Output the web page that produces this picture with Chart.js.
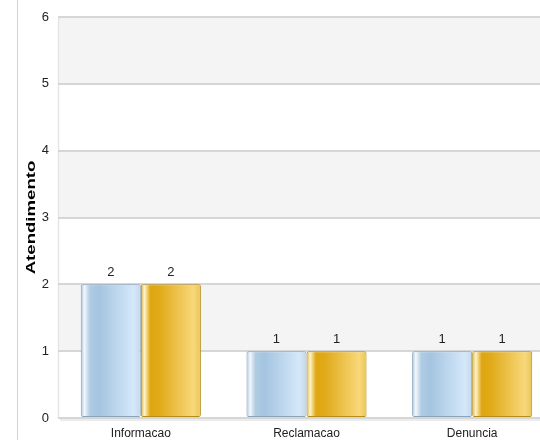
<!DOCTYPE html>
<html>
<head>
<meta charset="utf-8">
<script src="https://cdn.jsdelivr.net/npm/chart.js@4.4.1/dist/chart.umd.min.js"></script>
<style>
  html, body { margin: 0; padding: 0; background: #fff; }
  #wrap { width: 540px; height: 440px; overflow: hidden; }
</style>
</head>
<body>
<div id="wrap"><canvas id="chart" width="556" height="440"></canvas></div>
<script>
const categories = ['Informacao', 'Reclamacao', 'Denuncia'];
const seriesBlue = [2, 1, 1];
const seriesGold = [2, 1, 1];
const yTitle = 'Atendimento';
const yMin = 0;
const yMax = 6;

const CAT_PCT = 0.725;
const FONT = '"Liberation Sans", Arial, sans-serif';

const blueStops = [[0, '#a6c0d6'], [0.06, '#f4f8fc'], [0.15, '#b0cce4'], [0.3, '#a4c4e0'], [0.88, '#d4e8fa'], [1, '#c4d8ea']];
const goldStops = [[0, '#d8b040'], [0.06, '#fff3c8'], [0.16, '#dea610'], [0.3, '#e0aa18'], [0.88, '#f8d87a'], [1, '#e8c458']];

function barFill(stops) {
  return (c) => {
    const chart = c.chart;
    const x = chart.scales.x;
    if (!x || c.dataIndex === undefined) return stops[3][1];
    const catW = x.width / categories.length;
    const barW = catW * CAT_PCT / 2;
    const left = x.getPixelForValue(c.dataIndex) - barW + c.datasetIndex * barW;
    if (!isFinite(left) || !isFinite(barW) || barW <= 0) return stops[3][1];
    const g = chart.ctx.createLinearGradient(left, 0, left + barW, 0);
    stops.forEach(([o, col]) => g.addColorStop(o, col));
    return g;
  };
}

const decor = {
  id: 'decor',
  beforeDraw(chart) {
    const { ctx, chartArea: a, scales: { y } } = chart;
    ctx.save();
    // outer left rule
    ctx.fillStyle = '#d4d4d4';
    ctx.fillRect(17, 0, 1, chart.height);
    // alternating bands: 1-2, 3-4, 5-6 are shaded
    for (let k = yMin; k < yMax; k++) {
      if (k % 2 === 1) {
        const top = y.getPixelForValue(k + 1);
        const bot = y.getPixelForValue(k);
        ctx.fillStyle = '#f4f4f4';
        ctx.fillRect(a.left, top, a.right - a.left, bot - top);
      }
    }
    // plot frame (top / left)
    ctx.strokeStyle = '#e6e6e6';
    ctx.lineWidth = 1.5;
    ctx.beginPath();
    ctx.moveTo(a.left + 0.5, a.bottom);
    ctx.lineTo(a.left + 0.5, a.top + 4);
    ctx.quadraticCurveTo(a.left + 0.5, a.top, a.left + 4, a.top);
    ctx.lineTo(a.right, a.top);
    ctx.stroke();
    // shadow under base line
    ctx.fillStyle = '#ececec';
    ctx.fillRect(a.left + 2, a.bottom + 1, a.right - a.left, 2);
    ctx.restore();
  },
  afterDatasetsDraw(chart) {
    const { ctx } = chart;
    ctx.save();
    ctx.fillStyle = '#222';
    ctx.font = '13px ' + FONT;
    ctx.textAlign = 'center';
    ctx.textBaseline = 'alphabetic';
    chart.data.datasets.forEach((ds, i) => {
      chart.getDatasetMeta(i).data.forEach((el, j) => {
        ctx.fillText(String(ds.data[j]), el.x, el.y - 8);
      });
    });
    ctx.restore();
  },
  afterDraw(chart) {
    const { ctx, chartArea: a } = chart;
    ctx.save();
    ctx.translate(32, (a.top + a.bottom) / 2);
    ctx.rotate(-Math.PI / 2);
    ctx.scale(1.55, 1);
    ctx.fillStyle = '#000';
    ctx.font = 'bold 12px ' + FONT;
    ctx.textAlign = 'center';
    ctx.textBaseline = 'middle';
    ctx.fillText(yTitle, 0, 0);
    ctx.restore();
  }
};

new Chart(document.getElementById('chart'), {
  type: 'bar',
  data: {
    labels: categories,
    datasets: [
      {
        label: 'A',
        data: seriesBlue,
        backgroundColor: barFill(blueStops),
        borderColor: '#88a4bc',
        borderWidth: 1,
        borderRadius: 2,
        borderSkipped: false
      },
      {
        label: 'B',
        data: seriesGold,
        backgroundColor: barFill(goldStops),
        borderColor: '#b48c18',
        borderWidth: 1,
        borderRadius: 2,
        borderSkipped: false
      }
    ]
  },
  options: {
    responsive: false,
    animation: false,
    devicePixelRatio: 1,
    layout: { padding: { top: 17, right: 1, left: 0, bottom: 0 } },
    datasets: { bar: { categoryPercentage: CAT_PCT, barPercentage: 1 } },
    plugins: {
      legend: { display: false },
      tooltip: { enabled: false }
    },
    scales: {
      x: {
        afterFit: s => { s.height = 22; },
        grid: { display: false, drawTicks: false },
        border: { display: false },
        ticks: { color: '#222', padding: 8, font: { family: FONT, size: 12 } }
      },
      y: {
        min: yMin,
        max: yMax,
        afterFit: s => { s.width = 58; },
        grid: { color: '#d6d6d6', lineWidth: 2, drawTicks: false },
        border: { display: false },
        ticks: { stepSize: 1, color: '#222', padding: 9, font: { family: FONT, size: 13 } }
      }
    }
  },
  plugins: [decor]
});
</script>
</body>
</html>
